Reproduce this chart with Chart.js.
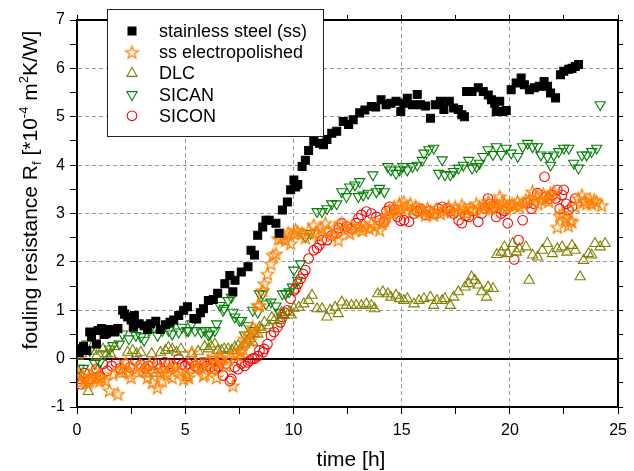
<!DOCTYPE html>
<html>
<head>
<meta charset="utf-8">
<title>fouling resistance</title>
<script src="https://cdn.jsdelivr.net/npm/chart.js@4.4.1/dist/chart.umd.min.js"></script>
<style>
  html, body { margin: 0; padding: 0; background: #fff; }
  #wrap { width: 634px; height: 471px; }
</style>
</head>
<body>
<div id="wrap"><canvas id="chartFouling" width="634" height="471"></canvas></div>
<script>
// values: [time h, Rf in 1e-4 m2K/W]
const ssData = [[0.1,0.12],[0.17,0.2],[0.3,0.25],[0.45,0.17],[0.59,0.55],[0.67,0.45],[0.9,0.3],[0.97,0.58],[1.13,0.62],[1.25,0.5],[1.35,0.52],[1.5,0.6],[1.73,0.55],[1.89,0.62],[2.11,1.0],[2.2,0.92],[2.34,0.86],[2.5,0.8],[2.6,0.65],[2.65,0.89],[2.87,0.72],[3.1,0.68],[3.25,0.6],[3.4,0.72],[3.64,0.77],[3.85,0.6],[4.09,0.7],[4.3,0.75],[4.47,0.8],[4.7,0.89],[4.93,1.0],[5.1,1.07],[5.4,0.83],[5.53,0.82],[5.7,0.95],[5.84,1.03],[6.07,1.2],[6.3,1.22],[6.5,1.35],[6.83,1.55],[7.06,1.72],[7.2,1.38],[7.3,1.62],[7.59,1.79],[7.9,1.9],[8.04,2.24],[8.2,2.14],[8.35,2.55],[8.58,2.72],[8.73,2.86],[8.88,2.86],[9.19,2.8],[9.34,2.59],[9.49,3.07],[9.72,3.24],[9.87,3.49],[10.02,3.69],[10.1,3.55],[10.2,3.6],[10.4,3.97],[10.55,4.1],[10.7,4.3],[10.94,4.49],[11.2,4.45],[11.39,4.42],[11.55,4.53],[11.77,4.66],[12.0,4.7],[12.3,4.9],[12.55,4.84],[12.76,4.94],[13.06,5.08],[13.3,5.14],[13.6,5.21],[13.8,5.2],[14.05,5.35],[14.28,5.25],[14.5,5.28],[14.74,5.32],[14.96,5.11],[15.1,5.28],[15.26,5.38],[15.5,5.25],[15.72,5.46],[15.87,5.25],[16.1,5.22],[16.33,4.97],[16.55,5.25],[16.79,5.32],[16.95,5.15],[17.2,5.32],[17.4,5.18],[17.62,5.15],[17.78,5.04],[17.9,5.0],[18.0,5.52],[18.25,5.52],[18.54,5.6],[18.77,5.52],[19.0,5.45],[19.15,5.35],[19.3,5.28],[19.37,5.11],[19.53,5.32],[19.68,5.11],[19.83,5.13],[20.06,5.56],[20.29,5.7],[20.52,5.8],[20.67,5.66],[20.9,5.56],[21.13,5.6],[21.36,5.63],[21.58,5.73],[21.74,5.63],[21.88,5.49],[22.11,5.39],[22.34,5.87],[22.49,5.94],[22.72,5.98],[22.87,6.0],[23.02,6.04],[23.17,6.08]];

const epData = [[0.05,-0.3],[0.14,-0.49],[0.25,-0.35],[0.36,-0.42],[0.5,-0.5],[0.59,-0.46],[0.7,-0.38],[0.82,-0.25],[0.95,-0.4],[1.05,-0.46],[1.13,-0.39],[1.3,-0.45],[1.5,-0.66],[1.66,-0.32],[1.89,-0.73],[1.96,-0.25],[2.1,-0.2],[2.26,-0.08],[2.4,-0.3],[2.5,-0.39],[2.72,-0.22],[2.9,-0.15],[3.04,-0.25],[3.25,-0.39],[3.35,-0.1],[3.48,-0.49],[3.55,-0.22],[3.71,-0.6],[3.85,-0.3],[3.94,-0.46],[4.05,-0.15],[4.17,-0.32],[4.3,-0.2],[4.4,-0.39],[4.55,-0.18],[4.7,-0.25],[4.93,-0.42],[5.08,-0.32],[5.16,-0.39],[5.31,0.13],[5.45,-0.1],[5.55,-0.18],[5.7,-0.15],[5.84,-0.35],[5.92,-0.32],[6.05,-0.05],[6.22,-0.22],[6.3,0.05],[6.44,-0.08],[6.45,-0.39],[6.6,0.03],[6.7,0.0],[6.9,-0.15],[7.0,0.0],[7.2,-0.56],[7.3,0.1],[7.44,0.06],[7.55,0.15],[7.67,0.2],[7.74,0.41],[7.9,0.51],[8.0,0.37],[8.12,0.65],[8.25,0.58],[8.35,1.1],[8.43,1.1],[8.58,1.41],[8.65,1.55],[8.8,1.75],[8.96,1.96],[9.05,2.14],[9.19,2.17],[9.3,2.48],[9.42,2.48],[9.55,2.55],[9.64,2.45],[9.75,2.6],[9.87,2.38],[10.02,2.59],[10.1,2.66],[10.2,2.62],[10.4,2.59],[10.55,2.5],[10.7,2.66],[10.94,2.76],[11.05,2.6],[11.17,2.55],[11.3,2.7],[11.47,2.8],[11.6,2.65],[11.77,2.55],[11.9,2.7],[12.07,2.45],[12.23,2.8],[12.38,2.66],[12.6,2.59],[12.7,2.75],[12.84,2.66],[13.06,2.73],[13.2,2.65],[13.3,2.73],[13.5,2.69],[13.6,2.8],[13.75,2.73],[13.98,2.66],[14.1,2.8],[14.2,2.86],[14.3,2.95],[14.43,3.07],[14.55,3.0],[14.66,3.14],[14.8,3.05],[14.9,3.2],[15.0,3.1],[15.1,3.24],[15.26,3.14],[15.4,3.2],[15.5,3.07],[15.65,3.15],[15.8,3.1],[15.95,3.05],[16.1,2.97],[16.2,3.1],[16.33,3.04],[16.48,2.97],[16.6,3.1],[16.79,3.0],[16.95,3.05],[17.17,3.14],[17.3,3.05],[17.47,3.14],[17.6,3.05],[17.78,3.17],[17.9,3.1],[18.0,3.0],[18.15,3.1],[18.3,3.07],[18.45,3.2],[18.6,3.14],[18.75,3.1],[18.84,3.17],[19.0,3.25],[19.07,3.14],[19.2,3.1],[19.3,3.2],[19.45,3.15],[19.53,3.35],[19.65,3.25],[19.75,3.2],[19.85,3.1],[19.98,3.17],[20.1,3.2],[20.21,3.17],[20.35,3.25],[20.44,3.14],[20.6,3.2],[20.74,3.28],[20.9,3.3],[21.04,3.45],[21.2,3.35],[21.3,3.2],[21.43,3.28],[21.55,3.4],[21.66,3.31],[21.8,3.25],[21.88,3.42],[22.03,3.45],[22.19,2.72],[22.3,2.95],[22.41,3.0],[22.57,2.9],[22.7,2.75],[22.8,2.86],[22.87,2.83],[23.02,3.14],[23.17,3.31],[23.33,3.38],[23.45,3.25],[23.55,3.2],[23.7,3.3],[23.78,3.2],[23.9,3.28],[24.01,3.24],[24.24,3.17]];

const dlcData = [[0.05,0.05],[0.2,0.1],[0.35,0.25],[0.52,-0.68],[0.7,0.15],[0.9,0.05],[1.2,0.2],[1.37,0.1],[1.55,0.1],[1.75,0.25],[2.04,-0.32],[2.34,0.13],[2.57,0.17],[2.75,0.1],[2.95,0.13],[3.2,-0.32],[3.45,0.1],[3.65,-0.3],[3.86,0.13],[4.09,0.17],[4.22,0.23],[4.4,0.2],[4.6,0.13],[4.8,0.2],[5.08,-0.39],[5.3,0.1],[5.6,0.15],[5.9,0.25],[6.07,0.2],[6.2,0.25],[6.37,0.3],[6.5,0.17],[6.67,0.17],[6.8,0.2],[6.98,0.2],[7.15,0.17],[7.29,0.24],[7.45,0.27],[7.6,0.24],[7.75,0.3],[7.85,0.37],[7.98,0.41],[8.12,0.34],[8.2,0.51],[8.35,0.51],[8.43,0.65],[8.55,0.6],[8.66,0.75],[8.88,0.68],[9.0,0.85],[9.11,0.79],[9.34,0.79],[9.45,0.95],[9.57,0.89],[9.8,0.96],[9.9,0.9],[10.02,1.04],[10.25,1.06],[10.48,1.13],[10.7,1.2],[10.86,1.31],[11.09,1.03],[11.32,1.03],[11.54,0.86],[11.7,1.0],[11.93,1.06],[12.07,0.93],[12.23,1.17],[12.45,1.1],[12.68,1.1],[12.9,1.1],[13.14,1.1],[13.37,1.13],[13.6,1.1],[13.75,1.03],[13.9,1.34],[14.13,1.38],[14.36,1.34],[14.5,1.27],[14.74,1.31],[14.9,1.24],[15.1,1.2],[15.26,1.24],[15.57,1.13],[15.8,1.2],[16.03,1.24],[16.33,1.27],[16.48,1.1],[16.63,1.2],[16.87,1.2],[17.0,1.24],[17.25,1.1],[17.4,1.27],[17.62,1.38],[17.93,1.48],[18.1,1.55],[18.23,1.69],[18.38,1.62],[18.54,1.52],[18.7,1.38],[18.92,1.27],[18.99,1.48],[19.22,1.45],[19.4,2.15],[19.6,2.2],[19.75,2.31],[19.9,2.17],[20.13,2.38],[20.3,2.2],[20.44,2.27],[20.74,2.31],[20.89,1.62],[21.05,2.14],[21.28,2.1],[21.5,2.24],[21.73,2.38],[21.96,2.17],[22.19,2.27],[22.41,2.31],[22.64,2.2],[22.87,2.34],[23.02,2.24],[23.25,1.69],[23.4,2.03],[23.63,2.17],[23.78,2.14],[23.93,2.38],[24.17,2.31],[24.4,2.38]];

const sicanData = [[0.1,-0.2],[0.14,0.23],[0.3,-0.2],[0.45,0.3],[0.59,0.17],[0.82,-0.1],[1.05,-0.08],[1.3,0.1],[1.5,0.2],[1.66,0.27],[1.96,0.3],[2.1,0.51],[2.4,0.41],[2.72,0.48],[2.95,0.45],[3.1,0.38],[3.33,0.58],[3.56,0.65],[3.72,0.48],[3.94,0.58],[4.24,0.58],[4.4,0.51],[4.7,0.55],[4.85,0.65],[5.08,0.58],[5.15,0.58],[5.3,0.72],[5.45,0.58],[5.75,0.55],[5.9,0.58],[6.07,0.49],[6.14,0.51],[6.37,0.58],[6.45,0.72],[6.6,1.1],[6.75,1.0],[6.8,1.04],[6.98,1.2],[7.13,1.27],[7.21,0.96],[7.29,0.86],[7.51,0.79],[7.6,0.79],[7.74,0.49],[7.9,0.68],[8.12,1.0],[8.2,0.58],[8.35,0.96],[8.43,1.34],[8.58,1.34],[8.73,1.13],[8.96,1.17],[9.19,1.09],[9.34,0.96],[9.49,1.34],[9.64,1.34],[9.8,1.38],[9.95,1.48],[10.02,1.83],[10.2,1.62],[10.33,1.96],[10.55,2.52],[10.79,2.59],[11.09,3.04],[11.32,3.04],[11.55,3.1],[11.77,3.2],[12.0,3.2],[12.23,3.45],[12.45,3.35],[12.6,3.55],[12.84,3.59],[13.0,3.35],[13.06,3.66],[13.22,3.38],[13.45,3.42],[13.67,3.8],[13.83,3.45],[13.98,3.52],[14.2,3.45],[14.36,3.97],[14.5,3.9],[14.74,3.83],[14.9,3.9],[15.05,3.97],[15.26,3.9],[15.5,3.97],[15.72,4.0],[15.95,4.1],[16.03,4.25],[16.26,4.32],[16.48,4.35],[16.71,3.83],[16.87,4.11],[17.0,3.8],[17.25,3.8],[17.4,3.87],[17.63,3.94],[17.85,4.0],[18.1,4.1],[18.25,3.94],[18.46,3.97],[18.6,4.04],[18.76,4.18],[18.99,4.32],[19.22,4.22],[19.37,4.38],[19.6,4.22],[19.83,4.35],[20.06,4.25],[20.36,4.18],[20.59,4.38],[20.82,4.45],[21.05,4.38],[21.28,4.38],[21.43,4.21],[21.73,4.18],[21.88,4.0],[22.03,4.21],[22.26,4.28],[22.49,4.35],[22.72,4.35],[22.95,4.04],[23.17,3.94],[23.33,4.21],[23.55,4.21],[23.78,4.28],[24.01,4.35],[24.17,5.25]];

const siconData = [[0.06,-0.42],[0.17,-0.53],[0.35,-0.3],[0.5,-0.45],[0.63,-0.42],[0.9,-0.21],[1.05,-0.35],[1.2,-0.11],[1.4,-0.25],[1.6,-0.15],[1.8,-0.08],[2.0,-0.2],[2.2,-0.1],[2.45,-0.18],[2.7,-0.05],[2.95,-0.12],[3.15,-0.2],[3.3,-0.15],[3.5,-0.08],[3.7,-0.11],[3.85,-0.2],[4.05,-0.07],[4.24,-0.11],[4.46,-0.18],[4.7,0.0],[4.85,-0.12],[5.0,-0.15],[5.15,-0.11],[5.3,-0.05],[5.45,-0.15],[5.6,-0.2],[5.75,-0.08],[5.9,-0.08],[6.0,-0.15],[6.14,-0.18],[6.3,-0.05],[6.37,-0.22],[6.52,-0.16],[6.6,-0.08],[6.75,-0.35],[6.9,-0.1],[7.06,-0.46],[7.13,-0.42],[7.29,-0.18],[7.44,-0.22],[7.6,-0.1],[7.75,-0.15],[7.9,-0.08],[7.97,-0.04],[8.1,0.0],[8.2,0.0],[8.35,0.05],[8.43,0.17],[8.6,0.13],[8.65,0.2],[8.8,0.3],[8.96,0.48],[9.1,0.55],[9.26,0.65],[9.4,0.75],[9.49,0.86],[9.6,0.95],[9.72,1.0],[9.87,1.24],[10.02,1.41],[10.1,1.45],[10.2,1.55],[10.33,1.65],[10.45,1.75],[10.55,1.83],[10.7,2.07],[10.94,2.24],[11.09,2.28],[11.2,2.35],[11.31,2.45],[11.55,2.45],[11.77,2.55],[12.0,2.59],[12.1,2.7],[12.23,2.8],[12.45,2.73],[12.68,2.69],[12.9,2.8],[13.0,2.9],[13.14,2.97],[13.37,3.04],[13.6,3.0],[13.83,2.93],[13.98,2.86],[14.2,2.83],[14.3,3.05],[14.43,3.14],[14.66,3.07],[14.81,2.93],[14.95,2.85],[15.11,2.86],[15.34,2.83],[15.57,3.0],[15.7,3.05],[15.87,3.1],[16.1,2.97],[16.3,3.05],[16.5,3.0],[16.7,3.1],[16.87,3.14],[17.1,3.1],[17.25,3.05],[17.4,3.0],[17.63,2.86],[17.78,2.8],[17.95,2.95],[18.1,2.93],[18.3,3.05],[18.54,2.83],[18.7,3.0],[18.85,3.1],[18.99,3.31],[19.1,3.2],[19.22,3.14],[19.37,2.93],[19.6,3.0],[19.75,3.05],[19.9,2.8],[20.2,2.05],[20.4,2.45],[20.59,2.86],[20.82,3.21],[21.0,3.1],[21.1,3.2],[21.27,3.42],[21.6,3.76],[21.66,3.35],[21.8,3.3],[21.96,3.38],[22.11,3.31],[22.19,3.49],[22.3,3.1],[22.41,3.38],[22.49,3.49],[22.6,3.2],[22.72,3.07],[22.87,3.14],[23.02,3.31]];

const seriesNames = ["stainless steel (ss)", "ss electropolished", "DLC", "SICAN", "SICON"];
const xTicks = [0, 5, 10, 15, 20, 25];
const yTicks = [-1, 0, 1, 2, 3, 4, 5, 6, 7];

const d = document;
const FONT = '"Liberation Sans", Arial, Helvetica, sans-serif';
const colors = { ss: "#000000", ep: "#ff8000", dlc: "#808000", sican: "#008000", sicon: "#ff0000" };

// 5-pointed hollow star, chart.js only has an asterisk "star"
function makeStar(color, rOut, rIn) {
    const c = d.createElement("canvas");
    const s = Math.ceil(rOut * 2 + 3) | 1;
    c.width = s; c.height = s;
    const g = c.getContext("2d");
    g.strokeStyle = color;
    g.lineWidth = 1.3;
    g.lineJoin = "miter";
    g.beginPath();
    for (let i = 0; i < 10; i++) {
        const r = i % 2 ? rIn : rOut;
        const a = -Math.PI / 2 + i * Math.PI / 5;
        const px = s / 2 + r * Math.cos(a), py = s / 2 + 0.6 + r * Math.sin(a);
        if (i) g.lineTo(px, py); else g.moveTo(px, py);
    }
    g.closePath();
    g.stroke();
    return c;
}
const starImg = makeStar(colors.ep, 6.6, 2.7);

const toPts = arr => arr.map(p => ({ x: p[0], y: p[1] }));

const markers = [
    { style: "rect", radius: 5.6, rot: 0, color: colors.ss, fill: colors.ss },
    { style: starImg, radius: 5, rot: 0, color: colors.ep, fill: "rgba(0,0,0,0)" },
    { style: "triangle", radius: 5.9, rot: 0, color: colors.dlc, fill: "rgba(0,0,0,0)" },
    { style: "triangle", radius: 5.9, rot: 180, color: colors.sican, fill: "rgba(0,0,0,0)" },
    { style: "circle", radius: 4.8, rot: 0, color: colors.sicon, fill: "rgba(0,0,0,0)" },
];
const seriesData = [ssData, epData, dlcData, sicanData, siconData];

const datasets = seriesData.map((arr, i) => ({
    label: seriesNames[i],
    data: toPts(arr),
    showLine: false,
    pointStyle: markers[i].style,
    pointRadius: markers[i].radius,
    pointRotation: markers[i].rot,
    pointBorderColor: markers[i].color,
    pointBackgroundColor: markers[i].fill,
    pointBorderWidth: 1.1,
    borderColor: markers[i].color,
    backgroundColor: markers[i].fill,
}));

// draw one marker for the legend
function drawMarker(ctx, m, x, y) {
    ctx.save();
    ctx.strokeStyle = m.color;
    ctx.fillStyle = m.fill;
    ctx.lineWidth = 1.1;
    if (typeof m.style !== "string") {
        ctx.drawImage(m.style, x - m.style.width / 2, y - m.style.height / 2);
        ctx.restore();
        return;
    }
    ctx.beginPath();
    if (m.style === "rect") {
        const h = m.radius * Math.SQRT1_2;
        ctx.rect(x - h, y - h, 2 * h, 2 * h);
    } else if (m.style === "circle") {
        ctx.arc(x, y, m.radius, 0, Math.PI * 2);
    } else {
        let rad = m.rot * Math.PI / 180;
        ctx.moveTo(x + Math.sin(rad) * m.radius, y - Math.cos(rad) * m.radius);
        for (let k = 0; k < 2; k++) {
            rad += 2 * Math.PI / 3;
            ctx.lineTo(x + Math.sin(rad) * m.radius, y - Math.cos(rad) * m.radius);
        }
        ctx.closePath();
    }
    ctx.fill();
    ctx.stroke();
    ctx.restore();
}

const decorPlugin = {
    id: "decor",
    beforeDatasetsDraw(chart) {
        const { ctx, chartArea: a } = chart;
        const y0 = Math.round(chart.scales.y.getPixelForValue(0));
        ctx.save();
        ctx.strokeStyle = "#000";
        ctx.lineWidth = 2;
        ctx.beginPath();
        ctx.moveTo(a.left, y0);
        ctx.lineTo(a.right, y0);
        ctx.stroke();
        ctx.restore();
    },
    afterDraw(chart) {
        const ctx = chart.ctx;
        // legend box
        ctx.save();
        ctx.fillStyle = "#fff";
        ctx.fillRect(107, 9, 216, 127);
        ctx.strokeStyle = "#222";
        ctx.lineWidth = 1;
        ctx.strokeRect(107.5, 9.5, 216, 127);
        ctx.font = "18px " + FONT;
        ctx.textBaseline = "middle";
        seriesNames.forEach((name, i) => {
            const yy = 31 + i * 21.2;
            drawMarker(ctx, markers[i], 132, yy);
            ctx.fillStyle = "#000";
            ctx.fillText(name, 159, yy + 1);
        });
        ctx.restore();

        // x title
        ctx.save();
        ctx.font = "21px " + FONT;
        ctx.fillStyle = "#000";
        ctx.textAlign = "center";
        ctx.textBaseline = "middle";
        ctx.fillText("time [h]", 351, 460);
        ctx.restore();

        // y title with sub/superscripts
        const parts = [
            ["fouling resistance R", 21, 0],
            ["f", 13, 4],
            [" [*10", 21, 0],
            ["-4", 13, -9],
            [" m", 21, 0],
            ["2", 13, -9],
            ["K/W]", 21, 0],
        ];
        ctx.save();
        ctx.translate(37, 190);
        ctx.rotate(-Math.PI / 2);
        ctx.fillStyle = "#000";
        ctx.textBaseline = "alphabetic";
        let total = 0;
        parts.forEach(p => { ctx.font = p[1] + "px " + FONT; total += ctx.measureText(p[0]).width; });
        let px = -total / 2;
        parts.forEach(p => {
            ctx.font = p[1] + "px " + FONT;
            ctx.fillText(p[0], px, p[2]);
            px += ctx.measureText(p[0]).width;
        });
        ctx.restore();
    }
};

const gridGray = "#999999";
const clear = "rgba(0,0,0,0)";

new Chart(d.getElementById("chartFouling"), {
    type: "scatter",
    data: { datasets },
    plugins: [decorPlugin],
    options: {
        responsive: false,
        animation: false,
        layout: { padding: 0, autoPadding: false },
        plugins: { legend: { display: false }, tooltip: { enabled: false } },
        scales: {
            x: {
                type: "linear", position: "bottom", min: 0, max: 25,
                afterFit: s => { s.height = 64; },
                ticks: {
                    stepSize: 2.5, autoSkip: false, maxRotation: 0, padding: 7,
                    color: "#000", font: { size: 16, family: FONT },
                    callback: v => xTicks.includes(v) ? String(v) : ""
                },
                grid: {
                    color: c => (c.tick && xTicks.includes(c.tick.value) && c.tick.value > 0 && c.tick.value < 25) ? gridGray : clear,
                    tickColor: "#000", tickLength: 7, lineWidth: 1
                },
                border: { color: "#000", width: 2, dash: [4, 3] }
            },
            x2: {
                type: "linear", position: "top", min: 0, max: 25,
                afterFit: s => { s.height = 20; },
                ticks: { stepSize: 2.5, display: false },
                grid: { drawOnChartArea: false, tickColor: "#000", tickLength: 5 },
                border: { color: "#000", width: 2 }
            },
            y: {
                type: "linear", position: "left", min: -1, max: 7,
                afterFit: s => { s.width = 77; },
                ticks: {
                    stepSize: 0.5, autoSkip: false, padding: 5,
                    color: "#000", font: { size: 16, family: FONT },
                    callback: v => yTicks.includes(v) ? String(v) : ""
                },
                grid: {
                    color: c => (c.tick && yTicks.includes(c.tick.value) && c.tick.value > 0 && c.tick.value < 7) ? gridGray : clear,
                    tickColor: "#000", tickLength: 7, lineWidth: 1
                },
                border: { color: "#000", width: 2, dash: [4, 3] }
            },
            y2: {
                type: "linear", position: "right", min: -1, max: 7,
                afterFit: s => { s.width = 9; },
                ticks: { stepSize: 0.5, display: false },
                grid: { drawOnChartArea: false, tickColor: "#000", tickLength: 5 },
                border: { color: "#000", width: 2 }
            }
        }
    }
});
</script>
</body>
</html>
